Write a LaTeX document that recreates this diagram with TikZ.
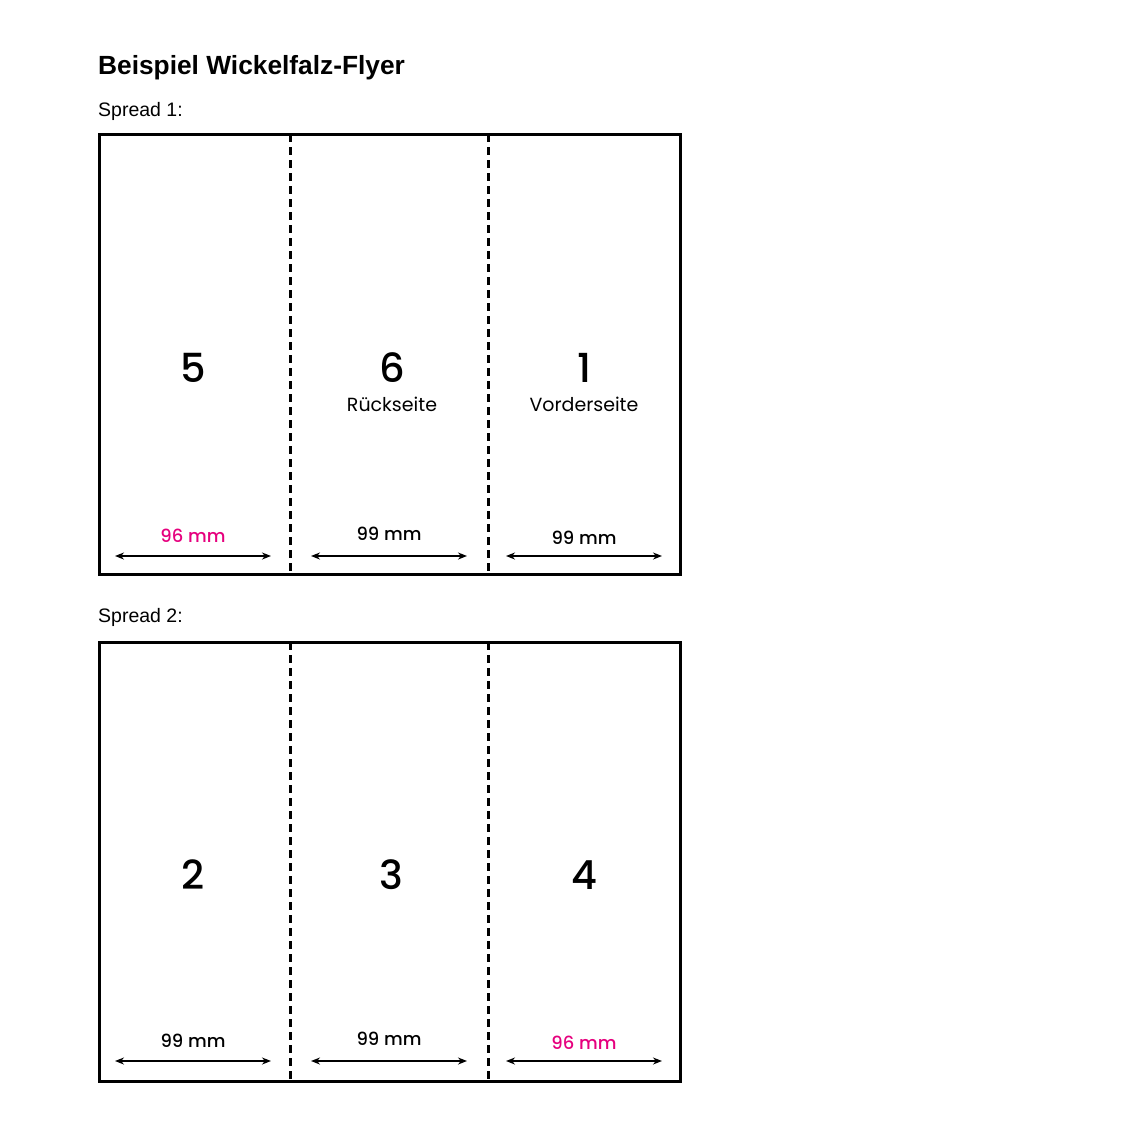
\documentclass[tikz,border=0pt]{standalone}
\usepackage{fontspec}
\setmainfont{Poppins}
\newfontfamily\medfont{Poppins Medium}
\newfontfamily\headfont{Liberation Sans}
\usetikzlibrary{arrows.meta}
\definecolor{magenta}{HTML}{E6007E}
\tikzset{
  panel/.style={draw=black, line width=3pt},
  fold/.style={draw=black, line width=3pt, dash pattern=on 8pt off 5pt},
  dim/.style={draw=black, line width=1.5pt, {Stealth[length=9pt,width=7pt]}-{Stealth[length=9pt,width=7pt]}},
  bignum/.style={font=\medfont\fontsize{40}{40}\selectfont, inner sep=0pt},
  sublabel/.style={font=\fontsize{19}{20}\selectfont, inner sep=0pt},
  mmlabel/.style={font=\medfont\fontsize{18}{20}\selectfont, inner sep=0pt},
  heading/.style={anchor=west, inner sep=0pt},
}
\begin{document}
\begin{tikzpicture}[x=1pt,y=-1pt]
\useasboundingbox (0,0) rectangle (1131,1133);
\fill[white] (0,0) rectangle (1131,1133);
\node[heading, font=\headfont\bfseries\fontsize{26.3}{28}\selectfont] (title) at (98,68) {Beispiel Wickelfalz-Flyer};
\node[heading, font=\headfont\fontsize{19.5}{22}\selectfont] (s1) at (98,111) {Spread 1:};
\node[heading, font=\headfont\fontsize{19.5}{22}\selectfont] (s2) at (98,617) {Spread 2:};

% Spread 1
\draw[panel] (99,134) rectangle (680,574);
\coordinate (f1t) at (290,134); \coordinate (f1b) at (290,574);
\coordinate (f2t) at (488,134); \coordinate (f2b) at (488,574);
\draw[fold] (f1t) -- (f1b);
\draw[fold] (f2t) -- (f2b);
\node[bignum] (n5) at (193,368) {5};
\node[bignum] (n6) at (392,368) {6};
\node[bignum] (n1) at (584,368) {1};
\node[sublabel] (r6) at (392,404) {Rückseite};
\node[sublabel] (v1) at (584,404) {Vorderseite};
\node[mmlabel, text=magenta] (m5) at (193,536) {96 mm};
\node[mmlabel] (m6) at (389,534) {99 mm};
\node[mmlabel] (m1) at (584,538) {99 mm};
\coordinate (a1l) at (115,556); \coordinate (a1r) at (271,556);
\coordinate (a2l) at (311,556); \coordinate (a2r) at (467,556);
\coordinate (a3l) at (506,556); \coordinate (a3r) at (662,556);
\draw[dim] (a1l) -- (a1r);
\draw[dim] (a2l) -- (a2r);
\draw[dim] (a3l) -- (a3r);

% Spread 2
\draw[panel] (99,642) rectangle (680,1081);
\coordinate (g1t) at (290,642); \coordinate (g1b) at (290,1081);
\coordinate (g2t) at (488,642); \coordinate (g2b) at (488,1081);
\draw[fold] (g1t) -- (g1b);
\draw[fold] (g2t) -- (g2b);
\node[bignum] (n2) at (193,875) {2};
\node[bignum] (n3) at (391,875) {3};
\node[bignum] (n4) at (584,875) {4};
\node[mmlabel] (m2) at (193,1041) {99 mm};
\node[mmlabel] (m3) at (389,1039) {99 mm};
\node[mmlabel, text=magenta] (m4) at (584,1043) {96 mm};
\coordinate (b1l) at (115,1061); \coordinate (b1r) at (271,1061);
\coordinate (b2l) at (311,1061); \coordinate (b2r) at (467,1061);
\coordinate (b3l) at (506,1061); \coordinate (b3r) at (662,1061);
\draw[dim] (b1l) -- (b1r);
\draw[dim] (b2l) -- (b2r);
\draw[dim] (b3l) -- (b3r);
\end{tikzpicture}
\end{document}
